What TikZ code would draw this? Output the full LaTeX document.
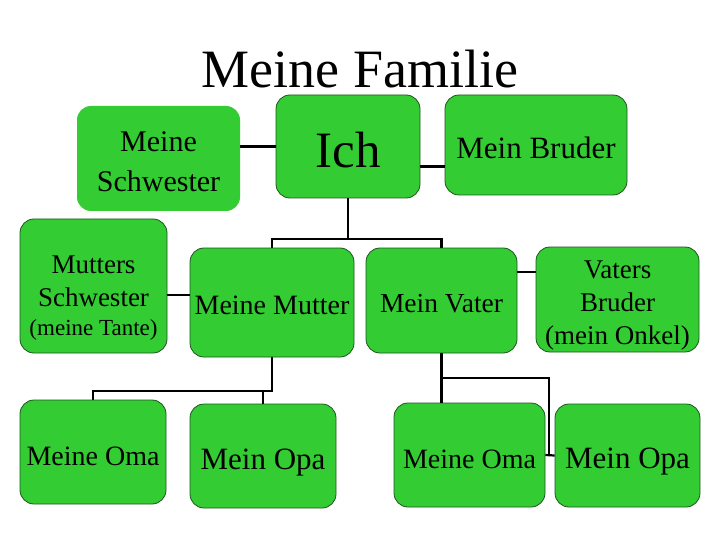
\documentclass[tikz,border=0pt]{standalone}
\usepackage{fontspec}
\setmainfont{Liberation Serif}
\definecolor{gruen}{RGB}{51,204,51}
\definecolor{rand}{RGB}{30,85,30}
\newcommand{\hoch}[1]{\rule{0pt}{#1}}

\begin{document}
\begin{tikzpicture}[x=1pt,y=-1pt,
  kasten/.style={rectangle,rounded corners=14pt,fill=gruen,draw=rand,line width=0.8pt,align=center,inner sep=0pt},
  tief/.style={execute at begin node={\hoch{#1}}},
  linie/.style={line width=2.2pt,black}]
  \useasboundingbox (0,0) rectangle (720,540);
  \node[font=\fontsize{54}{60}\selectfont] (titel) at (360,69) {Meine Familie};
  % erste Reihe
  \node[kasten,draw=none,minimum width=163pt,minimum height=105pt,font=\fontsize{30}{40}\selectfont] (schwester) at (158.5,158.5) {\hoch{26.5pt}Meine\\Schwester};
  \node[kasten,tief=42.8pt,minimum width=144pt,minimum height=103pt,font=\fontsize{51}{56}\selectfont] (ich) at (348,146.5) {Ich};
  \node[kasten,tief=27.2pt,minimum width=182pt,minimum height=100pt,font=\fontsize{31}{36}\selectfont] (bruder) at (536,145) {Mein Bruder};
  % Eltern
  \node[kasten,minimum width=147pt,minimum height=134pt,font=\fontsize{27}{33}\selectfont] (tante) at (93.5,286) {\hoch{41.9pt}Mutters\\Schwester\\[-4pt]{\fontsize{23}{31}\selectfont(meine Tante)}};
  \node[kasten,tief=24.4pt,minimum width=164pt,minimum height=109pt,font=\fontsize{28}{33}\selectfont] (mutter) at (272,302.5) {Meine Mutter};
  \node[kasten,tief=24.4pt,minimum width=151pt,minimum height=105pt,font=\fontsize{27.5}{33}\selectfont] (vater) at (441.5,300.5) {Mein Vater};
  \node[kasten,minimum width=163pt,minimum height=105pt,font=\fontsize{27}{33}\selectfont] (onkel) at (617.5,299.5) {\hoch{29.9pt}Vaters\\Bruder\\(mein Onkel)};
  % Grosseltern
  \node[kasten,tief=26.4pt,minimum width=146pt,minimum height=104pt,font=\fontsize{28}{33}\selectfont] (omaM) at (93,452) {Meine Oma};
  \node[kasten,tief=33.2pt,minimum width=146pt,minimum height=104pt,font=\fontsize{31}{36}\selectfont] (opaM) at (263,456) {Mein Opa};
  \node[kasten,tief=26.4pt,minimum width=151pt,minimum height=104pt,font=\fontsize{28}{33}\selectfont] (omaV) at (469.5,455) {Meine Oma};
  \node[kasten,tief=33.2pt,minimum width=145pt,minimum height=103pt,font=\fontsize{31}{36}\selectfont] (opaV) at (627.5,455.5) {Mein Opa};
  \coordinate (k1) at (348,239);
  \coordinate (k2) at (272,391);
  \coordinate (k3) at (441,378);
  \coordinate (k4) at (549,455);
  \draw[linie] (ich.west) -- (ich.west -| schwester.east);
  \draw[linie] ([yshift=-20pt]ich.east) -- ([yshift=-20pt]ich.east -| bruder.west);
  \draw[linie] (ich) -- (k1);
  \draw[linie] (mutter.north) |- (k1) -| (vater.north);
  \draw[linie] ([yshift=-9pt]tante.east) -- ([yshift=-9pt]tante.east -| mutter.west);
  \draw[linie] ([yshift=27.5pt]onkel.west) -- ([yshift=27.5pt]onkel.west -| vater.east);
  \draw[linie] (mutter.south) -- (k2) -| (omaM.north);
  \draw[linie] (k2) -| (opaM.north);
  \draw[linie] (vater.south) -- (vater.south |- omaV.north);
  \draw[linie] (k3) -| (k4);
  \draw[linie] (omaV.east) -- (opaV.west);
\end{tikzpicture}
\end{document}
